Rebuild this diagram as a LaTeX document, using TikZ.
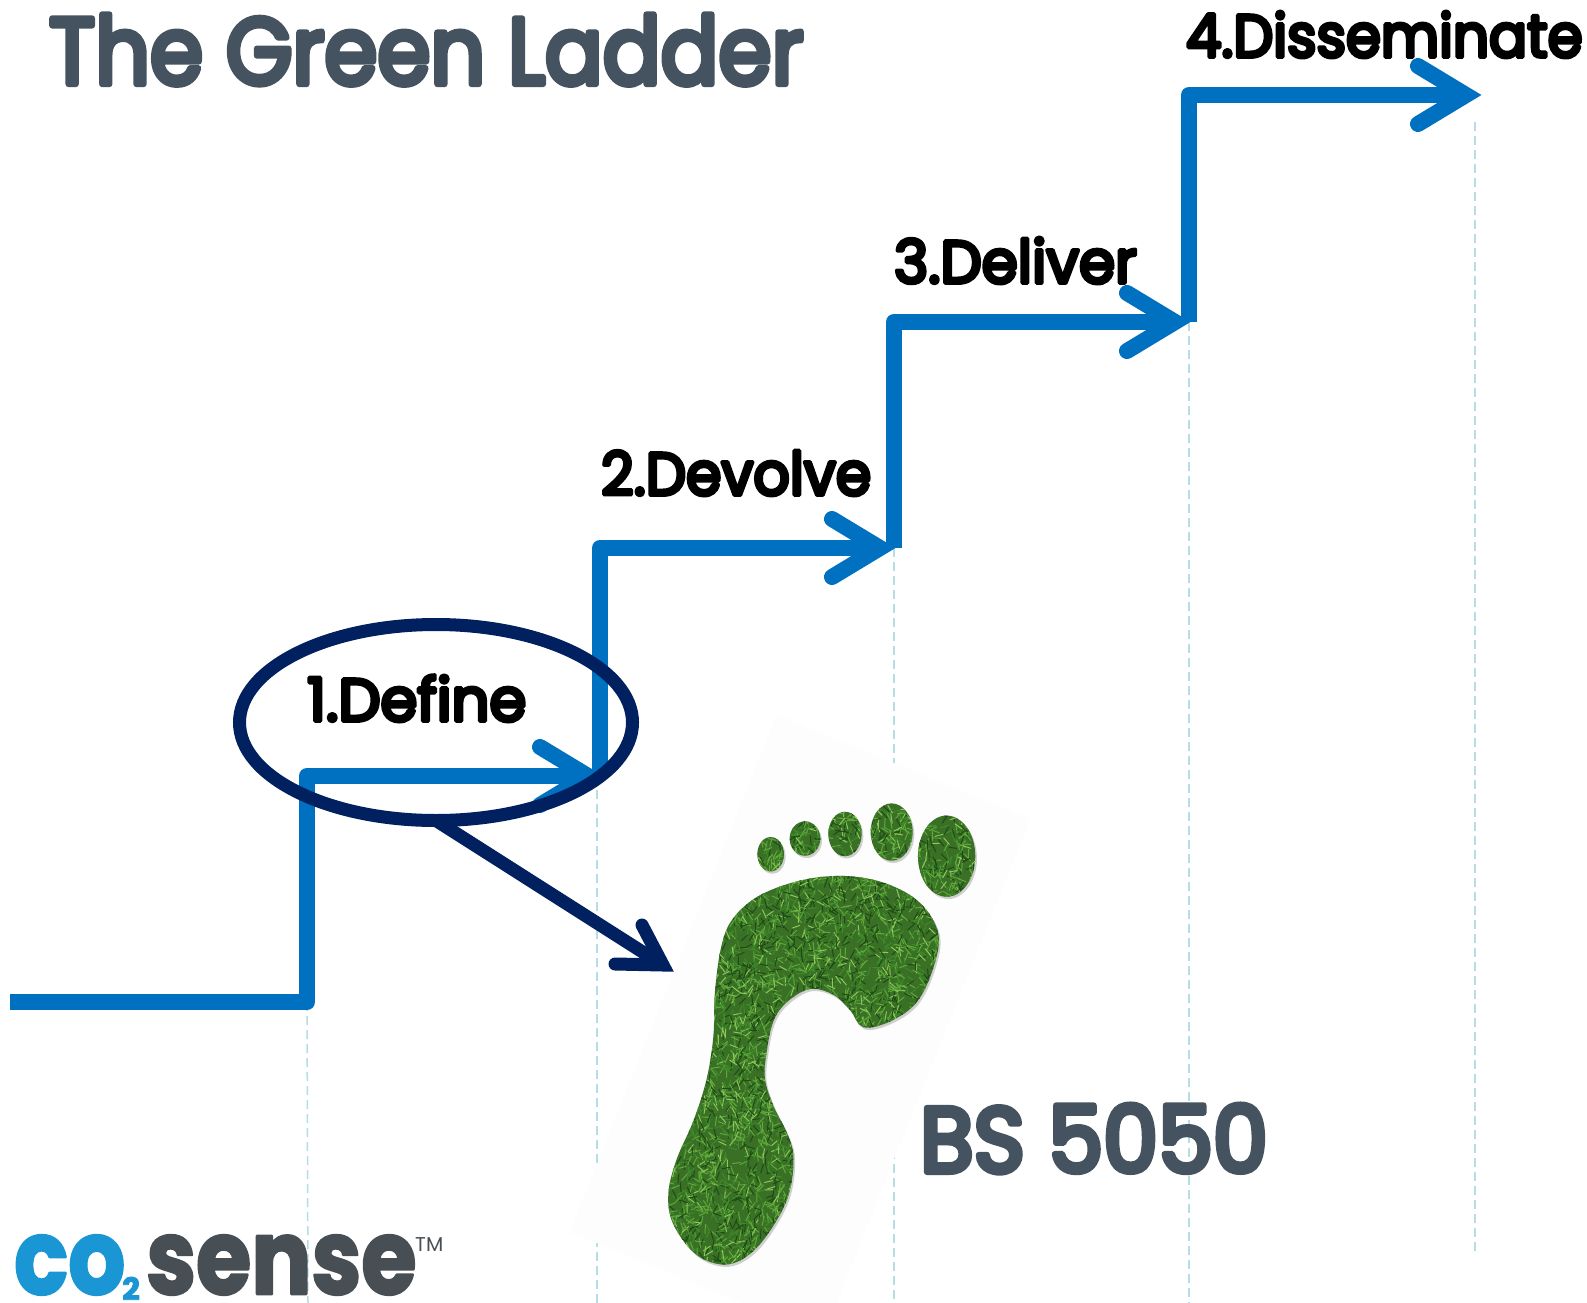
\documentclass[tikz,border=0pt]{standalone}
\usepackage{fontspec}
\usetikzlibrary{shapes.geometric}
\setmainfont{Poppins}
\newfontfamily\rndfont{Poppins}[RawFeature={embolden=6.5}]
\newfontfamily\rndheavy{Poppins}[BoldFeatures={RawFeature={embolden=2.5}}]
\definecolor{stepblue}{HTML}{0070C0}
\definecolor{navyline}{HTML}{002060}
\definecolor{slate}{HTML}{44535F}
\definecolor{guide}{HTML}{B5DDE3}
\definecolor{logoblue}{HTML}{1A96D4}
\definecolor{logogrey}{HTML}{474F55}
\definecolor{backing}{HTML}{FDFDFE}
\definecolor{grassbase}{HTML}{3A7026}
\newcommand{\rj}{\special{pdf:code 1 j 1 J}}
\newcommand{\tx}[3]{\scalebox{#1}[#2]{\rj #3}}
\tikzset{
  guideline/.style={guide,line width=1.5pt,dash pattern=on 9pt off 5pt},
  stair/.style={stepblue,line width=16pt,line join=round},
  stairtip/.style={stepblue,line width=16pt,line join=miter,line cap=round,miter limit=10},
  ringline/.style={navyline,line width=13pt},
  steplabel/.style={anchor=base west,inner sep=0pt,outer sep=0pt,text=black,font=\rndfont\fontsize{60}{60}\selectfont},
  biglabel/.style={anchor=base west,inner sep=0pt,outer sep=0pt,text=slate}
}
\newcommand{\footshape}{
  plot[smooth cycle,tension=0.6] coordinates {
  (470,1475)(380,1450)(310,1370)(295,1290)(320,1200)(370,1100)(410,990)(430,880)(435,760)(455,640)(490,570)(570,510)(700,470)(830,460)(950,480)(1050,530)(1105,610)(1090,700)(1040,790)(960,840)(880,855)(840,810)(790,770)(720,755)(650,790)(610,840)(590,920)(585,990)(610,1060)(650,1130)(670,1190)(660,1280)(620,1360)(550,1440)}
  (602,403) ellipse [x radius=40,y radius=45]
  (705,362) ellipse [x radius=46,y radius=45]
  (825,350) ellipse [x radius=50,y radius=58]
  (965,345) ellipse [x radius=63,y radius=75]
  (1130,408) ellipse [x radius=86,y radius=106]
}
\begin{document}
\begin{tikzpicture}[x=1pt,y=-1pt]
\useasboundingbox (0,0) rectangle (1587,1303);
\fill[white] (0,0) rectangle (1587,1303);
\coordinate (s0) at (10,1002);
\coordinate (c1) at (307,1002);
\coordinate (c2) at (307,776);
\coordinate (t1) at (588,776);
\coordinate (c3) at (600,776);
\coordinate (c4) at (600,548);
\coordinate (t2) at (880,548);
\coordinate (c5) at (894,548);
\coordinate (c6) at (894,322);
\coordinate (t3) at (1175,322);
\coordinate (c7) at (1189,322);
\coordinate (c8) at (1189,95);
\coordinate (t4) at (1466,95);
\coordinate (g1) at (308,1303);
\coordinate (g2) at (597,1303);
\coordinate (g3) at (894,1303);
\coordinate (g4) at (1189,1303);
\coordinate (g5a) at (1475,122);
\coordinate (g5) at (1475,1255);
\coordinate (g2a) at (597,790);
\draw[guideline] (c1) -- (g1);
\draw[guideline] (g2a) -- (g2);
\draw[guideline] (c5) -- (g3);
\draw[guideline] (c7) -- (g4);
\draw[guideline] (g5a) -- (g5);
\fill[backing] (777,715) -- (1030,819) -- (823,1336) -- (570,1232) -- cycle;
\begin{scope}[shift={(570,700)},x=0.3333pt,y=-0.3827pt]
  \fill[black,opacity=0.18,shift={(5,6)}] \footshape;
  \begin{scope}
    \clip \footshape;
    \fill[grassbase] (250,250) rectangle (1250,1500);
    \pgfmathsetseed{7}
    \foreach \n in {1,...,6500}{
      \pgfmathsetmacro{\px}{290+rnd*940}
      \pgfmathsetmacro{\py}{265+rnd*1215}
      \pgfmathsetmacro{\ang}{rnd*360}
      \pgfmathsetmacro{\pick}{rnd}
      \pgfmathsetmacro{\shade}{\pick<0.25?"1F4A16":(\pick<0.55?"3F8A2A":(\pick<0.88?"5FA83A":"8CC85A"))}
      \definecolor{blade}{HTML}{\shade}
      \draw[blade,line width=1pt,line cap=round] (\px,\py) -- ++(\ang:24);
    }
  \end{scope}
\end{scope}
\draw[stair] (s0) -- (c1) -- (c2) -- (t1);
\draw[stair] (c3) -- (c4) -- (t2);
\draw[stair] (c5) -- (c6) -- (t3);
\draw[stair] (c7) -- (c8) -- (t4);
\draw[stairtip] ([shift={(-48,-29)}]t1) -- (t1) -- ([shift={(-48,29)}]t1);
\draw[stairtip] ([shift={(-48,-29)}]t2) -- (t2) -- ([shift={(-48,29)}]t2);
\draw[stairtip] ([shift={(-48,-29)}]t3) -- (t3) -- ([shift={(-48,29)}]t3);
\draw[stairtip] ([shift={(-48,-29)}]t4) -- (t4) -- ([shift={(-48,29)}]t4);
\node[biglabel] (title) at (49,84) {\rndfont\fontsize{94}{94}\selectfont\tx{0.91}{1}{The Green Ladder}};
\node[steplabel] (l1) at (307,721) {\tx{0.99}{1}{1.Define}};
\node[steplabel] (l2) at (601,495) {\tx{0.95}{1}{2.Devolve}};
\node[steplabel] (l3) at (894,283) {\tx{0.97}{1}{3.Deliver}};
\node[steplabel] (l4) at (1186,57) {\tx{0.94}{1}{4.Disseminate}};
\node[biglabel] (bs) at (920,1172) {\rndfont\fontsize{92}{92}\selectfont\tx{0.95}{1}{BS 5050}};
\node[draw=navyline,line width=13pt,ellipse,minimum width=393pt,minimum height=196pt,inner sep=0pt,outer sep=0pt] (ring) at (436,722.5) {};
\coordinate (ptip) at (663,965);
\draw[ringline] (ring.south) -- (ptip);
\draw[ringline,line cap=round,line join=miter,miter limit=10] (642,925) -- (ptip) -- (615,964);
\node[anchor=base west,inner sep=0pt,text=logoblue] (co) at (14,1294) {\rndheavy\bfseries\fontsize{104}{104}\selectfont\tx{0.86}{1}{co}};
\node[anchor=base west,inner sep=0pt,text=logoblue] (two) at (122,1300) {\rndheavy\bfseries\fontsize{31}{31}\selectfont\tx{1}{1}{2}};
\node[anchor=base west,inner sep=0pt,text=logogrey] (sense) at (146,1294) {\rndheavy\bfseries\fontsize{104}{104}\selectfont\tx{0.86}{1}{sense}};
\node[anchor=base west,inner sep=0pt,text=logogrey] (tm) at (415,1251) {\fontsize{20}{20}\selectfont TM};
\end{tikzpicture}
\end{document}
